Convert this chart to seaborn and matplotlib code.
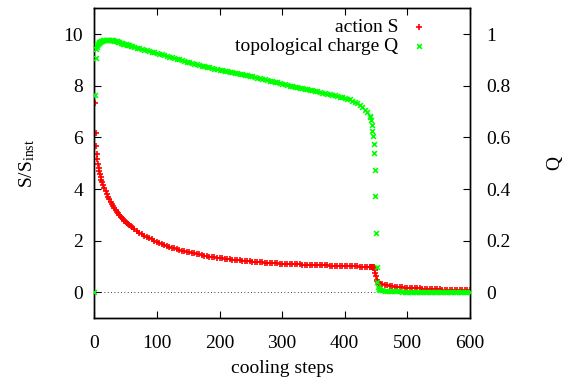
import numpy as np
import pandas as pd
import matplotlib
matplotlib.use("Agg")
import matplotlib.pyplot as plt
import seaborn as sns

# ---------------- data ----------------
steps = np.concatenate([
    np.arange(0, 13),          # 0..12
    np.arange(14, 61, 2),      # 14..60
    np.arange(64, 441, 4),     # 64..440
    np.arange(441, 457),       # 441..456
    np.arange(460, 601, 4),    # 460..600
])

action_S = [
    np.nan, 7.33, 6.17, 5.67, 5.36, 5.16, 4.98, 4.83, 4.70, 4.58, 4.47, 4.37, 4.28,
    4.16, 4.03, 3.91, 3.80, 3.70, 3.60, 3.51, 3.43, 3.35, 3.27, 3.20, 3.13,
    3.06, 3.00, 2.94, 2.88, 2.83, 2.78, 2.73, 2.69, 2.64, 2.60, 2.56, 2.52,
    2.45, 2.38, 2.32, 2.26, 2.20, 2.15, 2.10, 2.05, 2.00, 1.96,
    1.92, 1.88, 1.84, 1.80, 1.77, 1.74, 1.71, 1.68, 1.65, 1.62,
    1.60, 1.57, 1.55, 1.53, 1.51, 1.49, 1.47, 1.45, 1.43, 1.41,
    1.39, 1.38, 1.36, 1.35, 1.33, 1.32, 1.30, 1.29, 1.28, 1.27,
    1.26, 1.25, 1.24, 1.23, 1.22, 1.21, 1.20, 1.19, 1.18, 1.17,
    1.165, 1.16, 1.15, 1.145, 1.14, 1.135, 1.13, 1.125, 1.12, 1.115,
    1.11, 1.105, 1.10, 1.095, 1.09, 1.087, 1.083, 1.08, 1.077, 1.073,
    1.07, 1.067, 1.063, 1.06, 1.057, 1.053, 1.05, 1.047, 1.043, 1.04,
    1.037, 1.033, 1.03, 1.027, 1.023, 1.02, 1.017, 1.013, 1.01, 1.007,
    1.003, 1.00, 0.997, 0.993, 0.99,
    0.99, 0.988, 0.986, 0.984, 0.98, 0.97, 0.95, 0.88,
    0.75, 0.62, 0.50, 0.43, 0.39, 0.36, 0.345, 0.335,
    0.31, 0.29, 0.275, 0.26, 0.245, 0.23, 0.22, 0.21, 0.20, 0.19,
    0.18, 0.175, 0.17, 0.165, 0.16, 0.155, 0.15, 0.145, 0.14, 0.135,
    0.13, 0.126, 0.122, 0.118, 0.114, 0.11, 0.107, 0.104, 0.101, 0.098,
    0.095, 0.092, 0.089, 0.086, 0.083, 0.08,
]

charge_Q = [
    0.0, 0.763, 0.908, 0.941, 0.950, 0.956, 0.961, 0.965, 0.968, 0.970, 0.972, 0.974, 0.975,
    0.977, 0.978, 0.979, 0.979, 0.979, 0.978, 0.978, 0.977, 0.976, 0.975, 0.974, 0.972,
    0.971, 0.969, 0.967, 0.965, 0.963, 0.962, 0.960, 0.959, 0.957, 0.956, 0.954, 0.953,
    0.950, 0.947, 0.945, 0.942, 0.940, 0.937, 0.935, 0.932, 0.930, 0.927,
    0.924, 0.922, 0.919, 0.916, 0.913, 0.911, 0.908, 0.905, 0.902, 0.900,
    0.897, 0.894, 0.891, 0.889, 0.886, 0.884, 0.881, 0.878, 0.876, 0.873,
    0.871, 0.869, 0.866, 0.864, 0.862, 0.860, 0.858, 0.856, 0.854, 0.852,
    0.850, 0.848, 0.846, 0.844, 0.842, 0.840, 0.838, 0.836, 0.834, 0.832,
    0.830, 0.827, 0.825, 0.822, 0.820, 0.818, 0.815, 0.813, 0.810, 0.808,
    0.806, 0.804, 0.801, 0.799, 0.797, 0.795, 0.792, 0.790, 0.788, 0.786,
    0.784, 0.782, 0.780, 0.778, 0.776, 0.774, 0.771, 0.769, 0.767, 0.765,
    0.763, 0.760, 0.758, 0.755, 0.753, 0.750, 0.747, 0.743, 0.738, 0.732,
    0.725, 0.717, 0.708, 0.697, 0.683,
    0.678, 0.668, 0.650, 0.624, 0.606, 0.576, 0.538, 0.473,
    0.374, 0.231, 0.099, 0.041, 0.022, 0.015, 0.012, 0.010,
    0.008, 0.007, 0.006, 0.005, 0.005, 0.004, 0.004, 0.004, 0.003, 0.003,
    0.003, 0.003, 0.003, 0.003, 0.002, 0.002, 0.002, 0.002, 0.002, 0.002,
    0.002, 0.002, 0.002, 0.002, 0.002, 0.002, 0.002, 0.002, 0.001, 0.001,
    0.001, 0.001, 0.001, 0.001, 0.001, 0.001,
]

series_labels = ["action S", "topological charge Q"]
x_ticks = [0, 100, 200, 300, 400, 500, 600]
s_ticks = [0, 2, 4, 6, 8, 10]
q_ticks = [0, 0.2, 0.4, 0.6, 0.8, 1.0]
q_tick_labels = ["0", "0.2", "0.4", "0.6", "0.8", "1"]

df = pd.DataFrame({"step": steps, "S": action_S, "Q": charge_Q})

# ---------------- style ----------------
sns.set_style("ticks")
plt.rcParams.update({
    "font.family": ["Liberation Serif", "DejaVu Serif"],
    "font.size": 14,
    "mathtext.fontset": "custom",
    "mathtext.rm": "Liberation Serif",
    "mathtext.it": "Liberation Serif:italic",
    "axes.edgecolor": "black",
    "axes.linewidth": 1.0,
    "text.color": "black",
    "axes.labelcolor": "black",
    "xtick.color": "black",
    "ytick.color": "black",
})

fig = plt.figure(figsize=(5.7, 3.8), dpi=100)
ax = fig.add_axes([0.1654, 0.1624, 0.6591, 0.8158])
ax2 = ax.twinx()

RED = "#ff0000"
GREEN = "#00ff00"

ax.axhline(0, color="black", linewidth=0.6, linestyle=(0, (1, 3)), zorder=1)

sns.scatterplot(data=df, x="step", y="S", ax=ax, marker="+", color=RED,
                s=16, linewidth=1.2, legend=False, zorder=3)
sns.scatterplot(data=df, x="step", y="Q", ax=ax2, marker="x", color=GREEN,
                s=12, linewidth=1.2, legend=False, zorder=3)

ax.set_xlim(0, 600)
ax.set_ylim(-1, 11)
ax2.set_ylim(-0.1, 1.1)

ax.set_xticks(x_ticks)
ax.set_xticklabels([str(t) for t in x_ticks])
ax.set_yticks(s_ticks)
ax.set_yticklabels([str(t) for t in s_ticks])
ax2.set_yticks(q_ticks)
ax2.set_yticklabels(q_tick_labels)

ax.tick_params(axis="x", which="both", bottom=True, top=True, direction="in",
               length=5, width=0.8, pad=12, labelsize=14)
ax.tick_params(axis="y", left=True, right=False, direction="in",
               length=5, width=0.8, pad=8, labelsize=14)
ax2.tick_params(axis="y", right=True, left=False, direction="in",
                length=5, width=0.8, pad=11.5, labelsize=14)

for a in (ax, ax2):
    for sp in a.spines.values():
        sp.set_visible(True)
        sp.set_color("black")
        sp.set_linewidth(1.0)

ax.set_xlabel("cooling steps", fontsize=14, labelpad=6)
ax.set_ylabel(r"S/S$_{\mathrm{inst}}$", fontsize=14, labelpad=19)
ax2.set_ylabel("Q", fontsize=14, rotation=90, labelpad=26)

h1 = ax.collections[0]
h2 = ax2.collections[0]
ax2.legend([h1, h2], series_labels, loc="upper right",
           bbox_to_anchor=(0.890, 0.966), frameon=False, markerfirst=False,
           handlelength=1.0, handletextpad=0.55, borderpad=0, borderaxespad=0,
           labelspacing=0.05, scatterpoints=1, fontsize=14)

fig.savefig("out.png", dpi=100)
